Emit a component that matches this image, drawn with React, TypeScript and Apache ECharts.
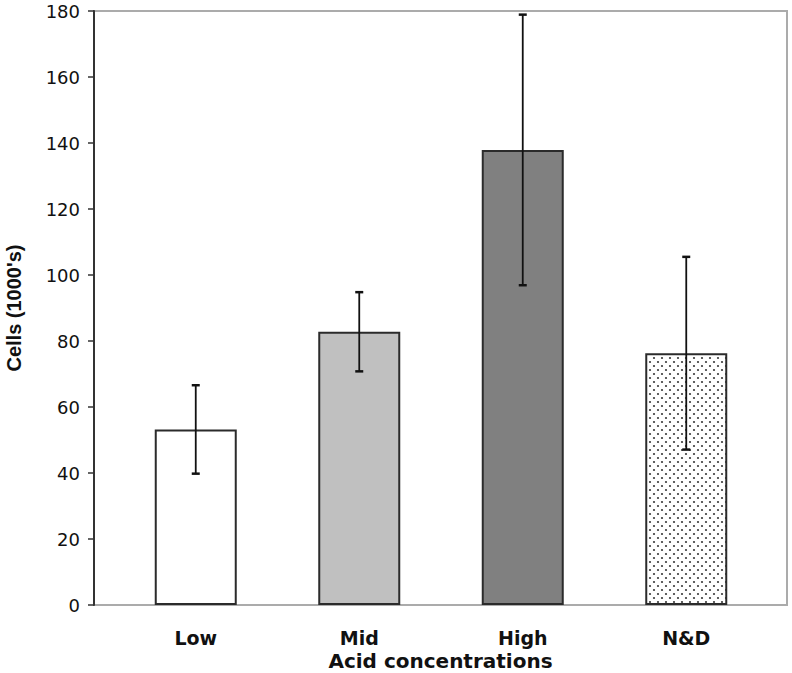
import React, { useEffect, useRef } from "react";
import * as echarts from "echarts";

const categories = ["Low", "Mid", "High", "N&D"];
const means = [53.2, 82.8, 137.9, 76.3];
const errors = [13.4, 12.0, 41.0, 29.2];
const yTicks = { min: 0, max: 180, interval: 20 };

function makeDotPattern(): HTMLCanvasElement {
  const c = document.createElement("canvas");
  c.width = 8;
  c.height = 8;
  const ctx = c.getContext("2d")!;
  ctx.fillStyle = "#ffffff";
  ctx.fillRect(0, 0, 8, 8);
  ctx.fillStyle = "#3a3a3a";
  ctx.beginPath();
  ctx.arc(2, 2, 1.1, 0, Math.PI * 2);
  ctx.fill();
  ctx.beginPath();
  ctx.arc(6, 6, 1.1, 0, Math.PI * 2);
  ctx.fill();
  return c;
}

export default function App() {
  const ref = useRef<HTMLDivElement>(null);
  useEffect(() => {
    if (!ref.current) return;
    const chart = echarts.init(ref.current, undefined, { renderer: "svg" });
    const pattern = makeDotPattern();
    const fills: any[] = [
      "#ffffff",
      "#c0c0c0",
      "#808080",
      { image: pattern, repeat: "repeat", imageWidth: 8, imageHeight: 8 },
    ];
    const barData = means.map((v, i) => ({
      value: v,
      itemStyle: { color: fills[i] },
    }));
    const errData = means.map((v, i) => [i, v - errors[i], v + errors[i]]);

    chart.setOption({
      animation: false,
      backgroundColor: "#ffffff",
      grid: [
        {
          left: 94,
          right: 5,
          top: 11,
          bottom: 68,
          show: true,
          borderColor: "#ababab",
          borderWidth: 2,
          backgroundColor: "transparent",
          containLabel: false,
          outerBoundsMode: "none",
        },
        {
          left: 114,
          right: 24,
          top: 11,
          bottom: 68,
          containLabel: false,
          outerBoundsMode: "none",
        },
      ],
      xAxis: [
        {
          gridIndex: 0,
          type: "value",
          min: 0,
          max: 1,
          axisLine: { show: false },
          axisTick: { show: false },
          axisLabel: { show: false },
          splitLine: { show: false },
          name: "Acid concentrations",
          nameLocation: "middle",
          nameGap: 47,
          nameTextStyle: {
            fontFamily: "DejaVu Sans",
            fontWeight: "bold",
            fontSize: 20,
            lineHeight: 18,
            color: "#111",
          },
        },
        {
          gridIndex: 1,
          type: "category",
          data: categories,
          axisLine: { show: false },
          axisTick: { show: false },
          axisLabel: {
            margin: 24,
            fontFamily: "DejaVu Sans",
            fontWeight: "bold",
            fontSize: 19,
            lineHeight: 18,
            color: "#111",
          },
        },
      ],
      yAxis: [
        {
          gridIndex: 0,
          type: "value",
          min: yTicks.min,
          max: yTicks.max,
          interval: yTicks.interval,
          axisLine: { show: true, lineStyle: { color: "#333", width: 2 } },
          axisTick: { show: true, length: 6, lineStyle: { color: "#333", width: 1.5 } },
          axisLabel: {
            margin: 14,
            fontFamily: "DejaVu Sans",
            fontSize: 18,
            color: "#111",
          },
          splitLine: { show: false },
          name: "Cells (1000's)",
          nameLocation: "middle",
          nameGap: 70,
          nameTextStyle: {
            fontFamily: "Liberation Sans",
            fontWeight: "bold",
            fontSize: 20,
            color: "#111",
          },
        },
        {
          gridIndex: 1,
          type: "value",
          min: yTicks.min,
          max: yTicks.max,
          interval: yTicks.interval,
          show: false,
          splitLine: { show: false },
        },
      ],
      series: [
        {
          type: "bar",
          xAxisIndex: 1,
          yAxisIndex: 1,
          barWidth: 82,
          data: barData,
          z: 2,
          itemStyle: { borderColor: "#2b2b2b", borderWidth: 2 },
          silent: true,
        },
        {
          type: "custom",
          xAxisIndex: 1,
          yAxisIndex: 1,
          data: errData,
          encode: { x: 0, y: [1, 2] },
          z: 5,
          silent: true,
          renderItem: (params: any, api: any) => {
            const x = api.value(0);
            const lo = api.coord([x, api.value(1)]);
            const hi = api.coord([x, api.value(2)]);
            const cap = 4;
            const style = { stroke: "#111", lineWidth: 1.8 };
            return {
              type: "group",
              children: [
                { type: "line", shape: { x1: lo[0], y1: lo[1], x2: hi[0], y2: hi[1] }, style },
                { type: "line", shape: { x1: hi[0] - cap, y1: hi[1], x2: hi[0] + cap, y2: hi[1] }, style: { ...style, lineWidth: 2.5 } },
                { type: "line", shape: { x1: lo[0] - cap, y1: lo[1], x2: lo[0] + cap, y2: lo[1] }, style: { ...style, lineWidth: 2.5 } },
              ],
            };
          },
        },
      ],
    });
    return () => chart.dispose();
  }, []);
  return <div ref={ref} style={{ width: 792, height: 673, position: "absolute", left: 0, top: 0 }} />;
}
